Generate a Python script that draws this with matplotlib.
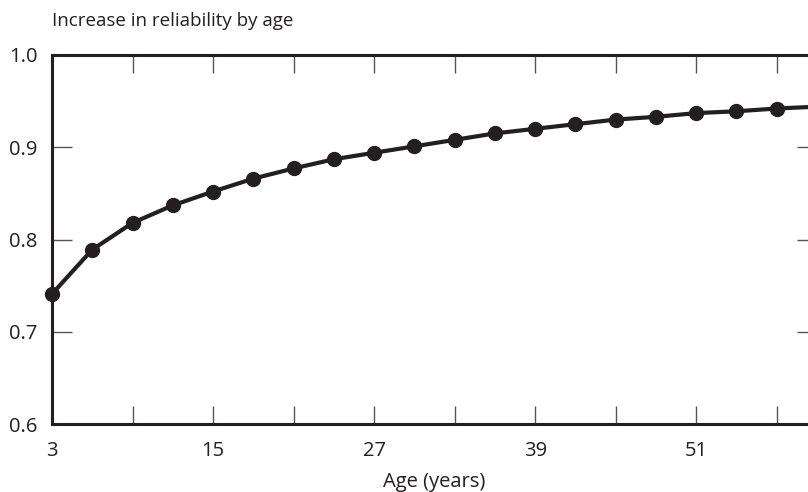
import matplotlib
matplotlib.use("Agg")
import matplotlib.pyplot as plt

# ages (years) and reliability
ages = [3, 6, 9, 12, 15, 18, 21, 24, 27, 30, 33, 36, 39, 42, 45, 48, 51, 54, 57, 60]
reliability = [0.741, 0.789, 0.818, 0.837, 0.852, 0.866, 0.877, 0.887, 0.894, 0.901,
               0.908, 0.915, 0.920, 0.925, 0.930, 0.933, 0.937, 0.939, 0.942, 0.944]

x_ticks = [3, 9, 15, 21, 27, 33, 39, 45, 51, 57]
x_tick_labels = ["3", "", "15", "", "27", "", "39", "", "51", ""]
y_ticks = [0.6, 0.7, 0.8, 0.9, 1.0]
y_tick_labels = ["0.6", "0.7", "0.8", "0.9", "1.0"]

ink = "#231f20"
plt.rcParams["font.family"] = ["Open Sans", "DejaVu Sans"]

fig = plt.figure(figsize=(8.08, 4.92), dpi=100)
W, H = 808, 492
left, right, top, bottom = 52, 817, 55, 424
ax = fig.add_axes([left / W, 1 - bottom / H, (right - left) / W, (bottom - top) / H])

ax.plot(ages, reliability, color=ink, linewidth=3, marker="o",
        markersize=10, markerfacecolor=ink, markeredgecolor=ink, clip_on=False, zorder=3)

ax.set_xlim(3, 60)
ax.set_ylim(0.6, 1.0)
ax.set_xticks(x_ticks)
ax.set_xticklabels(x_tick_labels)
ax.set_yticks(y_ticks)
ax.set_yticklabels(y_tick_labels)

for side in ["left", "bottom", "top", "right"]:
    ax.spines[side].set_linewidth(2.2)
    ax.spines[side].set_color(ink)

ax.tick_params(axis="x", direction="in", length=13, width=1, color="#555555",
               top=True, bottom=True, labelsize=14.5, labelcolor=ink, pad=12.5)
ax.tick_params(axis="y", direction="in", length=14.5, width=1, color="#555555",
               left=True, right=True, labelsize=14.5, labelcolor=ink, pad=10.5)

ax.set_xlabel("Age (years)", fontsize=14.5, color=ink, labelpad=8)
fig.text(left / W, 1 - 21 / H, "Increase in reliability by age", fontsize=13.5,
         color=ink, ha="left", va="center")

fig.savefig("out.png", dpi=100)
